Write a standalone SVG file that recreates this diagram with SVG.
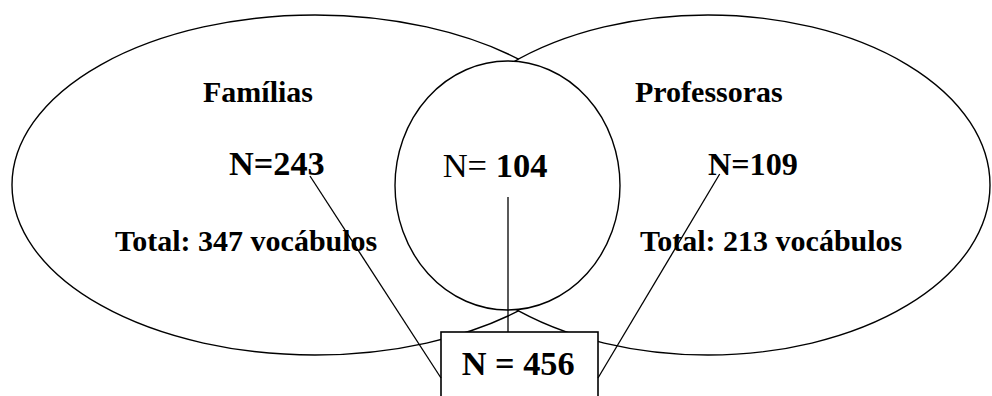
<svg xmlns="http://www.w3.org/2000/svg" width="992" height="396" viewBox="0 0 992 396">
<style>
.shape{fill:#fff;stroke:#000;stroke-width:1.4}
.box{fill:#fff;stroke:#000;stroke-width:1.6}
.conn line{stroke:#000;stroke-width:1.3}
text{font-family:"Liberation Serif","Times New Roman",serif;fill:#000}
.b{font-weight:bold}
</style>
<rect width="992" height="396" fill="#fff"/>
<g id="familias">
<ellipse class="shape" cx="315" cy="185" rx="303" ry="170"/>
<text class="b" x="203" y="102" font-size="30">Famílias</text>
<text class="b" x="229" y="175" font-size="34.3">N=243</text>
<text class="b" x="115" y="251" font-size="30">Total: 347 vocábulos</text>
</g>
<g id="professoras">
<ellipse class="shape" cx="708" cy="185" rx="282" ry="170"/>
<text class="b" x="635" y="102" font-size="30">Professoras</text>
<text class="b" x="708" y="175" font-size="32.2">N=109</text>
<text class="b" x="640" y="251" font-size="30">Total: 213 vocábulos</text>
</g>
<g id="intersecao">
<ellipse class="shape" cx="507.5" cy="185.5" rx="112.5" ry="124.5"/>
<text x="442.7" y="176.7" font-size="34.5">N= <tspan class="b">104</tspan></text>
</g>
<g id="total">
<rect class="box" x="441" y="332" width="157" height="80"/>
<text class="b" x="461.7" y="375" font-size="34.3">N = 456</text>
</g>
<g id="connectors" class="conn">
<line x1="310" y1="176" x2="441" y2="378"/>
<line x1="508" y1="197" x2="508" y2="332"/>
<line x1="719.7" y1="174" x2="598" y2="378"/>
</g>
</svg>
